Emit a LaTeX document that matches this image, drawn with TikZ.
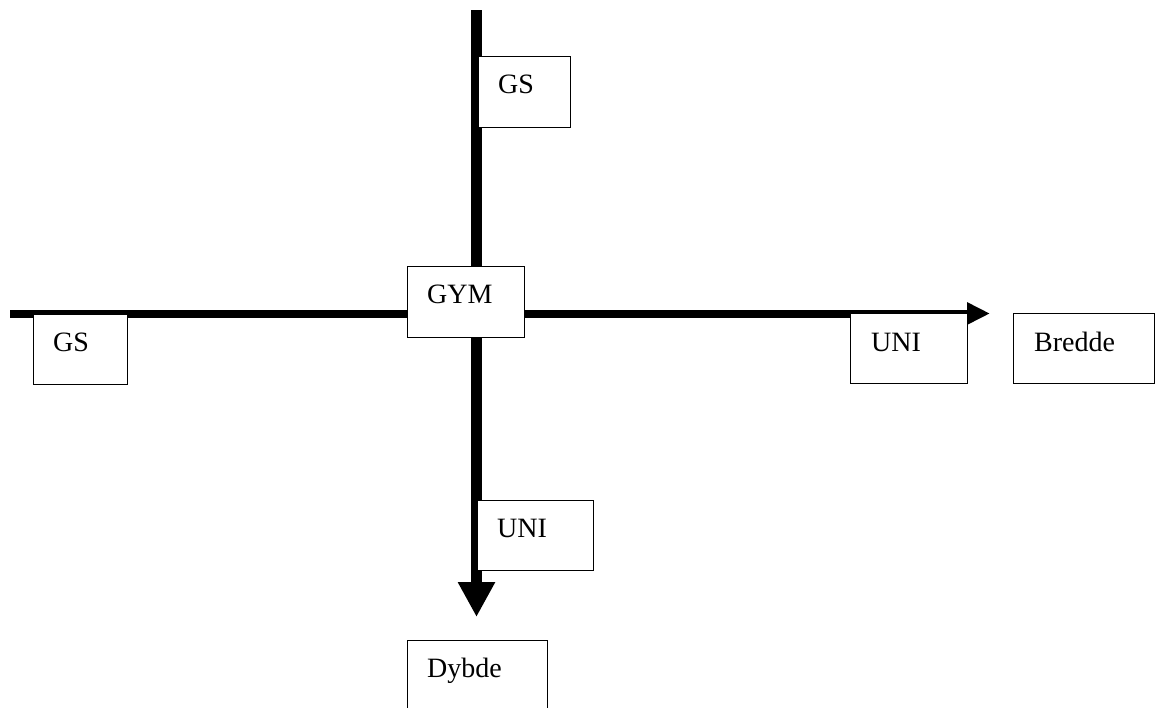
\documentclass[tikz,border=0pt]{standalone}
\usepackage{fontspec}
\setmainfont{Liberation Serif}
\usetikzlibrary{calc,arrows.meta}
\tikzset{
  box/.style={draw=black, fill=white, line width=1.3pt, anchor=north west, inner sep=0pt},
  lbl/.style={anchor=base west, inner sep=0pt, font=\fontsize{28}{30}\selectfont},
  axisv/.style={line width=11pt, -{Triangle[length=35pt,width=35pt]}},
  axish/.style={line width=8pt, -{Triangle[length=23pt,width=21pt]}}
}
\begin{document}
\begin{tikzpicture}[x=1pt,y=-1pt]
\useasboundingbox (0,0) rectangle (1158,707);
\clip (0,0) rectangle (1158,707);
% axis end points
\coordinate (vtop) at (476.5,10);
\coordinate (vend) at (476.5,617);
\coordinate (hleft) at (10,313.5);
\coordinate (hend) at (990,313.5);
\draw[axisv] (vtop) -- (vend);
\draw[axish] (hleft) -- (hend);
% boxes
\node[box, minimum width=92pt, minimum height=71pt] (gstop) at (478,56) {};
\node[lbl] (gstopt) at ($(gstop.north west)+(20,37)$) {GS};
\node[box, minimum width=94pt, minimum height=70pt] (gsleft) at (33,314) {};
\node[lbl] (gsleftt) at ($(gsleft.north west)+(20,37)$) {GS};
\node[box, minimum width=117pt, minimum height=71pt] (gym) at (407,266) {};
\node[lbl] (gymt) at ($(gym.north west)+(20,37)$) {GYM};
\node[box, minimum width=117pt, minimum height=70pt] (unir) at (850,313) {};
\node[lbl] (unirt) at ($(unir.north west)+(21,38)$) {UNI};
\node[box, minimum width=141pt, minimum height=70pt] (bredde) at (1013,313) {};
\node[lbl] (breddet) at ($(bredde.north west)+(21,38)$) {Bredde};
\node[box, minimum width=116pt, minimum height=70pt] (unib) at (477,500) {};
\node[lbl] (unibt) at ($(unib.north west)+(20,37)$) {UNI};
\node[box, minimum width=140pt, minimum height=75pt] (dybde) at (407,640) {};
\node[lbl] (dybdet) at ($(dybde.north west)+(20,37)$) {Dybde};
\end{tikzpicture}
\end{document}
